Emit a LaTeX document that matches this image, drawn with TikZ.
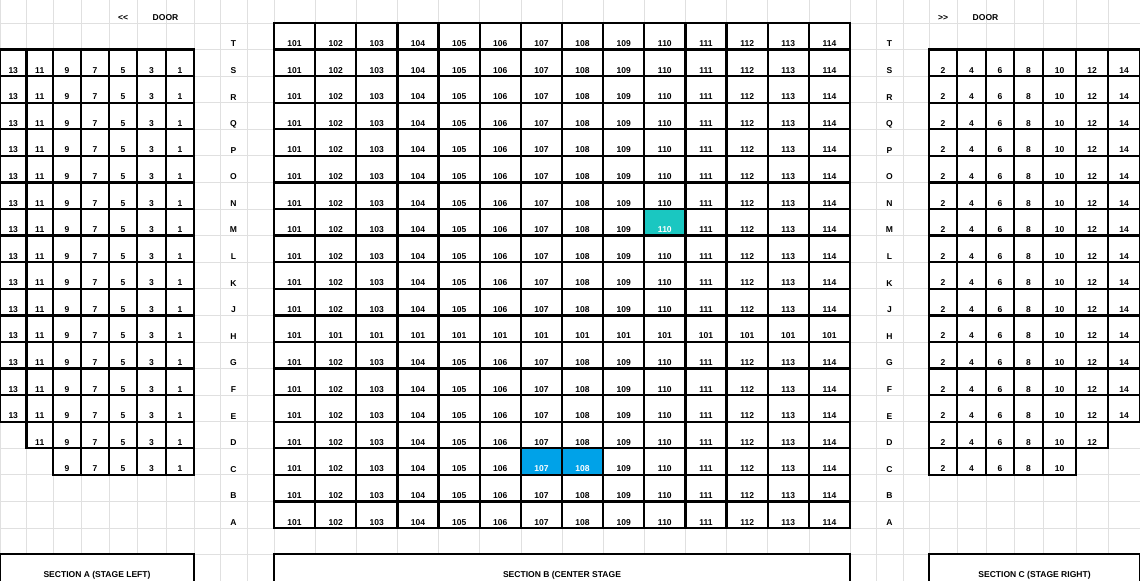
\documentclass[tikz,border=0pt]{standalone}
\usepackage{fontspec}
\setmainfont{Liberation Sans}
\usepackage{xcolor}
\definecolor{SheetGrid}{RGB}{224,224,224}
\definecolor{SeatTeal}{RGB}{26,199,193}
\definecolor{SeatBlue}{RGB}{0,162,232}

\begin{document}
\begin{tikzpicture}[x=0.75pt, y=-0.75pt,
    seat/.style={draw=black, line width=1.75pt},
    lbl/.style={anchor=base, inner sep=0pt,
                font=\fontsize{6.4}{7}\selectfont\bfseries},
    secbox/.style={draw=black, line width=1.3pt, fill=white}
  ]
  \useasboundingbox (0,0) rectangle (1140,581);

  % Sheet grid
  \foreach \x in {0,26.5,53,81,109,137,166,194,220,247,274,315.1,356.3,397.4,
                  438.6,479.7,520.9,562,603.1,644.3,685.4,726.6,767.7,808.9,850,
                  876,903,929,957,986,1014,1043,1076,1108,1140}
    \draw[SheetGrid, line width=0.6pt] (\x,0) -- (\x,581);
  \foreach \k in {0,...,21}
    \draw[SheetGrid, line width=0.6pt] (0,{23+26.58*\k}) -- (1140,{23+26.58*\k});

  % Doors
  \node[lbl] (doorA-arrow) at (123,21) {<{}<};
  \node[lbl] (doorA) at (165.5,21) {DOOR};
  \node[lbl] (doorC-arrow) at (943,21) {>{}>};
  \node[lbl] (doorC) at (985.5,21) {DOOR};

  % Row letters
  \foreach \ri/\row in {0/T,1/S,2/R,3/Q,4/P,5/O,6/N,7/M,8/L,9/K,10/J,11/H,
                        12/G,13/F,14/E,15/D,16/C,17/B,18/A}{
    \node[lbl] (left-\row) at (233.5,{46.9+26.58*\ri}) {\row};
    \node[lbl] (right-\row) at (889.5,{46.9+26.58*\ri}) {\row};
  }

  % Section A (stage left)
  \foreach \ri/\row in {1/S,2/R,3/Q,4/P,5/O,6/N,7/M,8/L,9/K,10/J,11/H,
                        12/G,13/F,14/E,15/D,16/C}
    \foreach \xa/\xb/\n [count=\i from 0] in {0/26.5/13,26.5/53/11,53/81/9,
                        81/109/7,109/137/5,137/166/3,166/194/1}{
      \pgfmathtruncatemacro\gap{(\ri==15 && \i<1) || (\ri==16 && \i<2)}
      \ifnum\gap=0
        \draw[seat] (\xa,{23+26.58*\ri}) rectangle (\xb,{49.58+26.58*\ri});
        \node[lbl] (A-\row-\n) at ({(\xa+\xb)/2},{46.6+26.58*\ri}) {\n};
      \fi
    }

  % Section B (center stage)
  \foreach \ri/\row in {0/T,1/S,2/R,3/Q,4/P,5/O,6/N,7/M,8/L,9/K,10/J,11/H,
                        12/G,13/F,14/E,15/D,16/C,17/B,18/A}
    \foreach \col in {0,...,13}{
      \pgfmathsetmacro\xa{274+41.143*\col}
      \pgfmathsetmacro\xb{\xa+41.143}
      \pgfmathtruncatemacro\seatno{101+\col*(\ri!=11)}
      \pgfmathtruncatemacro\hot{(\ri==7 && \col==9)+2*(\ri==16 && (\col==6 || \col==7))}
      \ifcase\hot
        \def\paint{white}\def\ink{black}
      \or
        \def\paint{SeatTeal}\def\ink{white}
      \or
        \def\paint{SeatBlue}\def\ink{white}
      \fi
      \filldraw[seat, fill=\paint] (\xa,{23+26.58*\ri}) rectangle (\xb,{49.58+26.58*\ri});
      \node[lbl, text=\ink] (B-\row-\col) at ({(\xa+\xb)/2},{46.6+26.58*\ri}) {\seatno};
    }

  % Section C (stage right)
  \foreach \ri/\row in {1/S,2/R,3/Q,4/P,5/O,6/N,7/M,8/L,9/K,10/J,11/H,
                        12/G,13/F,14/E,15/D,16/C}
    \foreach \xa/\xb/\n [count=\i from 0] in {929/957/2,957/986/4,986/1014/6,
                        1014/1043/8,1043/1076/10,1076/1108/12,1108/1140/14}{
      \pgfmathtruncatemacro\gap{(\ri==15 && \i>5) || (\ri==16 && \i>4)}
      \ifnum\gap=0
        \draw[seat] (\xa,{23+26.58*\ri}) rectangle (\xb,{49.58+26.58*\ri});
        \node[lbl] (C-\row-\n) at ({(\xa+\xb)/2},{46.6+26.58*\ri}) {\n};
      \fi
    }

  % Section captions
  \draw[secbox] (0,581) -- (0,554.2) -- (194,554.2) -- (194,581);
  \draw[secbox] (274,581) -- (274,554.2) -- (850,554.2) -- (850,581);
  \draw[secbox] (929,581) -- (929,554.2) -- (1140,554.2) -- (1140,581);
  \node[lbl] (secA) at (97,577) {SECTION A (STAGE LEFT)};
  \node[lbl] (secB) at (562,577) {SECTION B (CENTER STAGE};
  \node[lbl] (secC) at (1034.5,577) {SECTION C (STAGE RIGHT)};
\end{tikzpicture}
\end{document}
